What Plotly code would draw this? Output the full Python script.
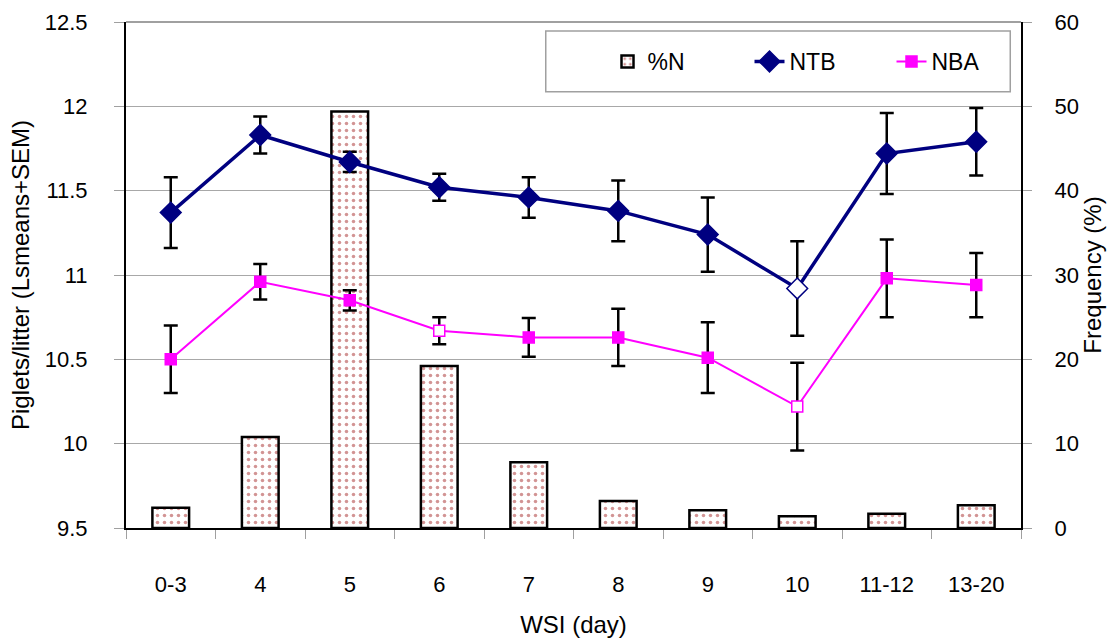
import plotly.graph_objects as go

categories = ["0-3", "4", "5", "6", "7", "8", "9", "10", "11-12", "13-20"]
pct_n = [2.4, 10.8, 49.4, 19.2, 7.8, 3.2, 2.1, 1.4, 1.7, 2.7]
ntb = [11.37, 11.83, 11.67, 11.52, 11.46, 11.38, 11.24, 10.92, 11.72, 11.79]
ntb_sem = [0.21, 0.11, 0.06, 0.08, 0.12, 0.18, 0.22, 0.28, 0.24, 0.20]
nba = [10.50, 10.96, 10.85, 10.67, 10.63, 10.63, 10.51, 10.22, 10.98, 10.94]
nba_sem = [0.20, 0.105, 0.06, 0.08, 0.115, 0.17, 0.21, 0.26, 0.23, 0.19]
ntb_open = [False, False, False, False, False, False, False, True, False, False]
nba_open = [False, False, False, True, False, False, False, True, False, False]

FONT = "Liberation Sans, Arial, sans-serif"
NAVY = "#000080"
MAG = "#FF00FF"

fig = go.Figure()

fig.add_trace(go.Bar(
    x=categories, y=pct_n, name="%N", yaxis="y", width=0.41,
    marker=dict(color="white", line=dict(color="black", width=2.5),
                pattern=dict(shape=".", fgcolor="#A52A2A", bgcolor="white",
                             size=7, solidity=0.2)),
))

fig.add_trace(go.Scatter(
    x=categories, y=ntb, name="NTB", yaxis="y2", mode="lines+markers",
    line=dict(color=NAVY, width=3.5),
    marker=dict(symbol="diamond", size=16,
                color=["white" if o else NAVY for o in ntb_open],
                line=dict(color=NAVY, width=1.5)),
    error_y=dict(type="data", array=ntb_sem, color="black", thickness=2.5, width=7),
))

fig.add_trace(go.Scatter(
    x=categories, y=nba, name="NBA", yaxis="y2", mode="lines+markers",
    line=dict(color=MAG, width=2),
    marker=dict(symbol="square", size=11,
                color=["white" if o else MAG for o in nba_open],
                line=dict(color=MAG, width=1.5)),
    error_y=dict(type="data", array=nba_sem, color="black", thickness=2.5, width=7),
))

fig.update_layout(
    width=1119, height=638,
    margin=dict(l=126, r=98, t=22, b=110, autoexpand=False),
    paper_bgcolor="white", plot_bgcolor="white",
    font=dict(family=FONT, size=22, color="black"),
    showlegend=True,
    legend=dict(orientation="h", x=0.538, y=0.922, xanchor="left", yanchor="middle",
                borderwidth=0, bgcolor="rgba(0,0,0,0)",
                font=dict(size=23), entrywidth=97, entrywidthmode="pixels",
                traceorder="normal"),
    xaxis=dict(
        type="category", range=[-0.5, 9.5], tickson="boundaries", ticks="outside",
        ticklen=9, tickcolor="#A0A0A0", showline=True, linecolor="black", linewidth=2,
        showgrid=False, ticklabelstandoff=36, automargin=False,
        tickfont=dict(size=22),
        title=dict(text="WSI (day)", standoff=20, font=dict(size=24)),
    ),
    yaxis=dict(
        side="right", range=[0, 60], dtick=10, ticks="outside", ticklen=9,
        tickcolor="#A0A0A0", showline=True, linecolor="black", linewidth=2,
        showgrid=True, gridcolor="#A8A8A8", gridwidth=1, automargin=False,
        zeroline=False, ticklabelstandoff=18, tickfont=dict(size=22),
        title=dict(text="Frequency (%)", standoff=6, font=dict(size=24)),
    ),
    yaxis2=dict(
        side="left", overlaying="y", range=[9.5, 12.5], dtick=0.5,
        tickformat="~g", ticks="outside", ticklen=10, tickcolor="#A0A0A0",
        showline=True, linecolor="black", linewidth=2, showgrid=False,
        zeroline=False, ticklabelstandoff=22, automargin=False,
        tickfont=dict(size=22),
        title=dict(text="Piglets/litter (Lsmeans+SEM)", standoff=8, font=dict(size=24)),
    ),
    shapes=[
        dict(type="line", xref="paper", yref="paper", x0=0, x1=1, y0=1, y1=1,
             line=dict(color="#A0A0A0", width=2)),
        dict(type="rect", xref="paper", yref="paper", x0=0.469, x1=0.988,
             y0=0.862, y1=0.982, line=dict(color="#A0A0A0", width=1.5),
             fillcolor="white", layer="below"),
    ],
)

fig.write_html("out.html")
